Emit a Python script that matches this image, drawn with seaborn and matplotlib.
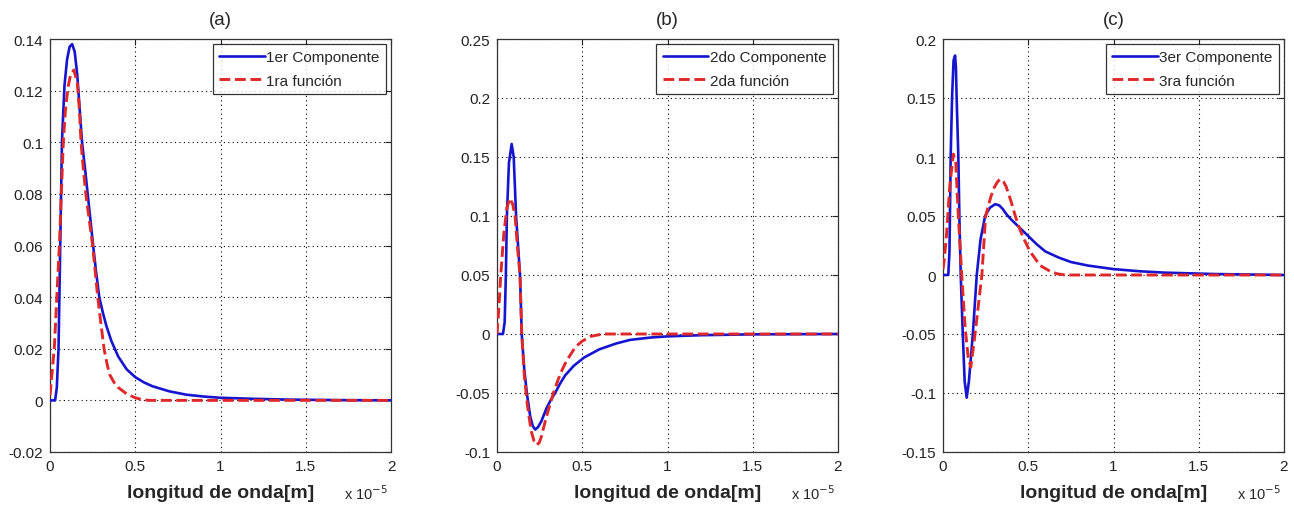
import numpy as np
import pandas as pd
import matplotlib
matplotlib.use("Agg")
import matplotlib.pyplot as plt
import seaborn as sns

# ---------------- data (x in units of 1e-5 m) ----------------
xa_comp = [0, 0.03, 0.04, 0.05, 0.06, 0.07, 0.085, 0.10, 0.115, 0.13, 0.145, 0.16, 0.175, 0.188, 0.205,
           0.221, 0.237, 0.253, 0.27, 0.289, 0.31, 0.33, 0.36, 0.40, 0.45, 0.50, 0.55, 0.60, 0.70,
           0.80, 0.90, 1.0, 1.2, 1.4, 1.7, 2.0]
ya_comp = [0, 0, 0.005, 0.02, 0.06, 0.10, 0.122, 0.132, 0.137, 0.138, 0.135, 0.126, 0.112, 0.10, 0.09,
           0.08, 0.07, 0.06, 0.05, 0.04, 0.034, 0.029, 0.023, 0.017, 0.012, 0.009, 0.007, 0.0055, 0.0035,
           0.0022, 0.0015, 0.001, 0.0006, 0.0003, 0.0001, 0]
xa_func = [0, 0.025, 0.04, 0.055, 0.078, 0.09, 0.105, 0.12, 0.14, 0.16, 0.172, 0.182, 0.195, 0.21, 0.23,
           0.25, 0.265, 0.28, 0.30, 0.317, 0.335, 0.35, 0.375, 0.40, 0.45, 0.50, 0.54, 0.58, 2.0]
ya_func = [0.002, 0.02, 0.04, 0.06, 0.10, 0.112, 0.121, 0.126, 0.128, 0.123, 0.113, 0.10, 0.09, 0.08, 0.07,
           0.06, 0.05, 0.04, 0.029, 0.02, 0.014, 0.01, 0.007, 0.005, 0.0025, 0.001, 0.0003, 0, 0]

xb_comp = [0, 0.035, 0.045, 0.052, 0.058, 0.07, 0.086, 0.098, 0.112, 0.135, 0.145, 0.16, 0.175, 0.195,
           0.21, 0.224, 0.24, 0.26, 0.29, 0.315, 0.341, 0.37, 0.4, 0.45, 0.51, 0.6, 0.7, 0.78, 0.9, 1.0,
           1.2, 1.5, 2.0]
yb_comp = [0, 0, 0.01, 0.05, 0.10, 0.145, 0.161, 0.15, 0.10, 0.05, 0, -0.03, -0.05, -0.07,
           -0.078, -0.081, -0.079, -0.074, -0.063, -0.056, -0.05, -0.042, -0.035, -0.027, -0.02, -0.013,
           -0.008, -0.005, -0.003, -0.002, -0.001, -0.0003, 0]
xb_func = [0, 0.01, 0.022, 0.04, 0.058, 0.076, 0.092, 0.106, 0.122, 0.135, 0.145, 0.16, 0.178, 0.2,
           0.218, 0.233, 0.248, 0.26, 0.29, 0.331, 0.355, 0.38, 0.40, 0.42, 0.46, 0.5, 0.55, 0.62, 2.0]
yb_func = [0, 0.02, 0.05, 0.085, 0.107, 0.115, 0.11, 0.10, 0.07, 0.05, 0, -0.035, -0.06, -0.082,
           -0.091, -0.094, -0.092, -0.087, -0.07, -0.05, -0.04, -0.031, -0.025, -0.02, -0.011, -0.006,
           -0.002, 0, 0]

xc_comp = [0, 0.031, 0.038, 0.045, 0.053, 0.062, 0.071, 0.076, 0.08, 0.09, 0.096, 0.104, 0.116, 0.127,
           0.139, 0.152, 0.175, 0.198, 0.22, 0.247, 0.275, 0.306, 0.33, 0.35, 0.375, 0.4, 0.45, 0.5,
           0.55, 0.6, 0.675, 0.75, 0.85, 1.0, 1.15, 1.3, 1.6, 2.0]
yc_comp = [0, 0, 0.02, 0.10, 0.15, 0.182, 0.186, 0.175, 0.15, 0.10, 0.05, 0, -0.05, -0.09,
           -0.104, -0.09, -0.05, 0, 0.03, 0.05, 0.057, 0.060, 0.059, 0.056, 0.051, 0.047, 0.04, 0.033,
           0.026, 0.02, 0.015, 0.011, 0.008, 0.005, 0.0032, 0.002, 0.0008, 0]
xc_func = [0, 0.006, 0.02, 0.04, 0.061, 0.075, 0.09, 0.11, 0.13, 0.148, 0.163, 0.188, 0.228, 0.25,
           0.28, 0.3, 0.32, 0.335, 0.355, 0.37, 0.4, 0.424, 0.45, 0.47, 0.5, 0.52, 0.57, 0.63, 0.67,
           0.72, 2.0]
yc_func = [0.005, 0.011, 0.033, 0.076, 0.1025, 0.095, 0.05, 0, -0.045, -0.07, -0.078, -0.05, 0, 0.05,
           0.066, 0.074, 0.079, 0.0813, 0.079, 0.075, 0.062, 0.05, 0.039, 0.032, 0.023, 0.018, 0.008,
           0.003, 0.001, 0, 0]

titles = ["(a)", "(b)", "(c)"]
comp_labels = ["1er Componente", "2do Componente", "3er Componente"]
func_labels = ["1ra función", "2da función", "3ra función"]
xticks = [0, 0.5, 1, 1.5, 2]
xtick_labels = ["0", "0.5", "1", "1.5", "2"]
yticks_a = [-0.02, 0, 0.02, 0.04, 0.06, 0.08, 0.1, 0.12, 0.14]
ytick_labels_a = ["-0.02", "0", "0.02", "0.04", "0.06", "0.08", "0.1", "0.12", "0.14"]
yticks_b = [-0.1, -0.05, 0, 0.05, 0.1, 0.15, 0.2, 0.25]
ytick_labels_b = ["-0.1", "-0.05", "0", "0.05", "0.1", "0.15", "0.2", "0.25"]
yticks_c = [-0.15, -0.1, -0.05, 0, 0.05, 0.1, 0.15, 0.2]
ytick_labels_c = ["-0.15", "-0.1", "-0.05", "0", "0.05", "0.1", "0.15", "0.2"]
xlabel = "longitud de onda[m]"

# ---------------- style ----------------
sns.set_theme(style="white")
plt.rcParams['font.family'] = ['Liberation Sans', 'DejaVu Sans']

W, H = 1294, 506
fig = plt.figure(figsize=(W / 100, H / 100), dpi=100)

panels = [
    (xa_comp, ya_comp, xa_func, ya_func, yticks_a, ytick_labels_a, 50),
    (xb_comp, yb_comp, xb_func, yb_func, yticks_b, ytick_labels_b, 497),
    (xc_comp, yc_comp, xc_func, yc_func, yticks_c, ytick_labels_c, 943),
]
BLUE = "#1515d0"
RED = "#e02828"

for i, (xc, yc, xf, yf, yt, ytl, left_px) in enumerate(panels):
    ax = fig.add_axes([left_px / W, (H - 453) / H, 341 / W, 413 / H])
    dfc = pd.DataFrame({"x": xc, "y": yc})
    dff = pd.DataFrame({"x": xf, "y": yf})
    sns.lineplot(data=dfc, x="x", y="y", ax=ax, color=BLUE, linewidth=1.9,
                 label=comp_labels[i], zorder=3)
    sns.lineplot(data=dff, x="x", y="y", ax=ax, color=RED, linewidth=2.1,
                 linestyle="--", label=func_labels[i], zorder=4)
    ax.set_xlim(0, 2)
    ax.set_ylim(yt[0], yt[-1])
    ax.set_xticks(xticks)
    ax.set_xticklabels(xtick_labels)
    ax.set_yticks(yt)
    ax.set_yticklabels(ytl)
    ax.tick_params(direction="in", length=4, width=0.8, top=True, right=True,
                   labelsize=11, colors="#222222", pad=5)
    ax.grid(True, color="black", linestyle=(0, (1, 3)), linewidth=0.8)
    for s in ax.spines.values():
        s.set_color("#333333")
        s.set_linewidth(0.9)
    ax.set_title(titles[i], fontsize=13.5, pad=11)
    ax.set_xlabel(xlabel, fontsize=14, fontweight="bold", labelpad=8)
    ax.set_ylabel("")
    ax.text(0.99, -0.098, "x 10$^{-5}$", transform=ax.transAxes, ha="right", va="center",
            fontsize=10.5)
    leg = ax.legend(loc="upper right", fontsize=11, frameon=True, fancybox=False,
                    borderpad=0.4, handlelength=3.0, handletextpad=0.1,
                    borderaxespad=0.35, labelspacing=0.6)
    leg.get_frame().set_edgecolor("black")
    leg.get_frame().set_linewidth(0.9)

fig.savefig("out.png", dpi=100)
